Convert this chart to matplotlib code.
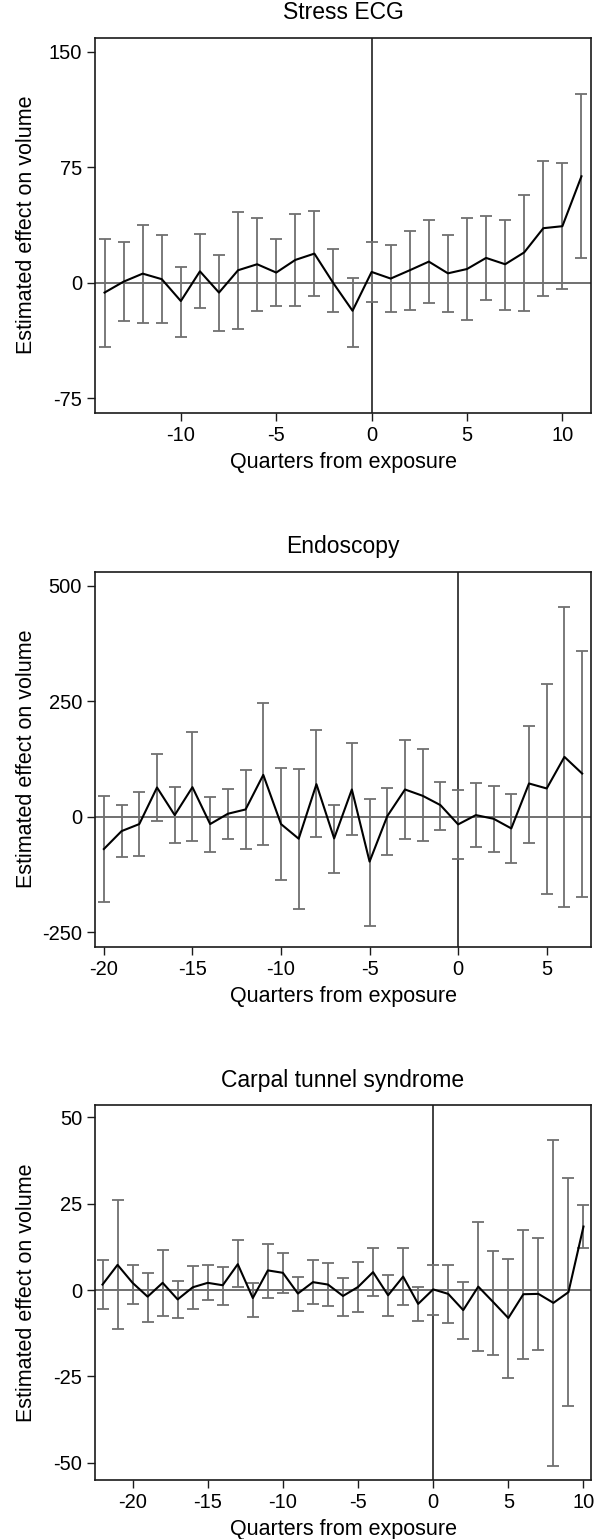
import matplotlib
matplotlib.use("Agg")
import matplotlib.pyplot as plt
import numpy as np

plt.rcParams['font.family'] = ['Liberation Sans', 'DejaVu Sans']
plt.rcParams['axes.unicode_minus'] = False

# ---------------- Data ----------------
ecg_x = list(range(-14, 12))
ecg_est = [-6.5, 0.6, 5.8, 2.2, -12.0, 7.3, -6.5, 8.0, 11.9, 6.5, 14.7, 18.8, -0.5,
           -18.3, 6.9, 2.6, 8.0, 13.6, 6.0, 8.8, 16.0, 11.9, 19.6, 35.3, 36.6, 69.0]
ecg_hi = [28.0, 26.5, 37.7, 30.8, 10.1, 31.7, 17.9, 46.0, 42.2, 28.0, 44.4, 46.3, 21.5,
          3.2, 26.5, 24.4, 33.6, 40.7, 30.8, 42.2, 43.1, 40.9, 57.1, 79.1, 77.6, 122.2]
ecg_lo = [-42.0, -24.8, -26.0, -26.5, -35.6, -16.6, -31.3, -30.4, -18.5, -15.3, -15.3, -8.6, -19.2,
          -42.0, -12.7, -19.2, -17.7, -13.4, -19.2, -24.4, -11.0, -17.7, -18.3, -8.6, -4.5, 16.2]

endo_x = list(range(-20, 8))
endo_est = [-69.8, -31.0, -15.8, 63.3, 3.6, 64.0, -15.8, 6.5, 15.8, 90.6, -15.8, -47.5, 70.5, -46.8,
            59.0, -97.0, 1.4, 59.0, 45.3, 25.2, -16.5, 3.6, -4.3, -25.2, 72.0, 61.2, 129.5, 93.5]
endo_hi = [44.6, 24.5, 52.5, 136.0, 63.3, 183.5, 43.2, 59.0, 101.4, 246.0, 106.5, 103.6, 187.0, 24.5,
           160.4, 37.4, 62.6, 165.5, 146.0, 75.5, 57.5, 72.7, 65.5, 49.6, 196.4, 287.8, 454.0, 359.0]
endo_lo = [-184.0, -86.3, -84.9, -8.6, -56.1, -53.2, -76.3, -48.2, -70.5, -61.9, -136.7, -199.0, -43.9, -122.3,
           -40.3, -236.0, -82.0, -48.9, -53.2, -28.8, -92.0, -66.2, -77.0, -100.0, -56.1, -166.9, -194.2, -174.0]

cts_x = list(range(-22, 11))
cts_est = [1.6, 7.3, 2.1, -1.9, 2.1, -2.7, 0.8, 2.1, 1.4, 7.5, -2.3, 5.7, 5.0, -1.0, 2.3, 1.6,
           -1.7, 0.9, 5.2, -1.5, 3.9, -4.0, 0.2, -1.1, -5.8, 1.0, -3.5, -8.1, -1.2, -1.1, -3.7, -0.6, 18.4]
cts_hi = [8.7, 26.0, 7.3, 5.0, 11.7, 2.5, 7.0, 7.3, 6.7, 14.5, 2.1, 13.3, 10.6, 3.7, 8.7, 7.8,
          3.5, 8.2, 12.3, 4.3, 12.3, 0.8, 7.4, 7.3, 2.4, 19.8, 11.3, 9.0, 17.5, 15.1, 43.6, 32.6, 24.7]
cts_lo = [-5.6, -11.4, -4.0, -9.1, -7.4, -8.0, -5.5, -3.0, -4.3, 0.9, -7.8, -2.2, -0.8, -6.1, -4.0, -4.6,
          -7.4, -6.3, -1.6, -7.6, -4.4, -9.0, -7.1, -9.6, -14.3, -17.6, -18.7, -25.6, -19.9, -17.4, -51.0, -33.6, 12.1]

panels = [
    ("Stress ECG", ecg_x, ecg_est, ecg_lo, ecg_hi, [-75, 0, 75, 150], (-84.5, 159), [-10, -5, 0, 5, 10], (-14.5, 11.5)),
    ("Endoscopy", endo_x, endo_est, endo_lo, endo_hi, [-250, 0, 250, 500], (-281, 530), [-20, -15, -10, -5, 0, 5], (-20.5, 7.5)),
    ("Carpal tunnel syndrome", cts_x, cts_est, cts_lo, cts_hi, [-50, -25, 0, 25, 50], (-55, 53.6), [-20, -15, -10, -5, 0, 5, 10], (-22.5, 10.5)),
]

W, H = 598, 1539
fig = plt.figure(figsize=(W / 100, H / 100), dpi=100)

left = 95 / W
axw_px = 591 - 95
width = axw_px / W
bottoms = [412.7, 946.7, 1480.0]
axh_px = 375
height = axh_px / H

frame_col = "#1a1a1a"
bar_col = "#707070"

for (title, x, est, lo, hi, yt, ylim, xt, xlim), bpx in zip(panels, bottoms):
    ax = fig.add_axes([left, 1 - bpx / H, width, height])
    x = np.array(x); est = np.array(est); lo = np.array(lo); hi = np.array(hi)
    ax.axhline(0, color=bar_col, lw=1.4, zorder=1)
    ax.axvline(0, color="#333333", lw=1.3, zorder=1)
    ax.errorbar(x, est, yerr=[est - lo, hi - est], fmt="none", ecolor=bar_col,
                elinewidth=1.3, capsize=4.5, capthick=1.3, zorder=2)
    ax.plot(x, est, color="black", lw=1.5, zorder=3)
    ax.set_xlim(*xlim)
    ax.set_ylim(*ylim)
    ax.set_xticks(xt)
    ax.set_yticks(yt)
    ax.tick_params(direction="out", length=5.8, width=1.0, color=frame_col,
                   labelsize=14.5, pad=3.5)
    for s in ax.spines.values():
        s.set_color(frame_col)
        s.set_linewidth(1.2)
    ax.set_title(title, fontsize=16.5, y=1 + 16.5 / axh_px, va="center")
    ax.set_xlabel("Quarters from exposure", fontsize=15.5, va="center")
    ax.xaxis.set_label_coords(0.5, -50 / axh_px)
    ax.set_ylabel("Estimated effect on volume", fontsize=15.5, va="center")
    ax.yaxis.set_label_coords(-68 / axw_px, 0.5)

fig.savefig("out.png", dpi=100)
